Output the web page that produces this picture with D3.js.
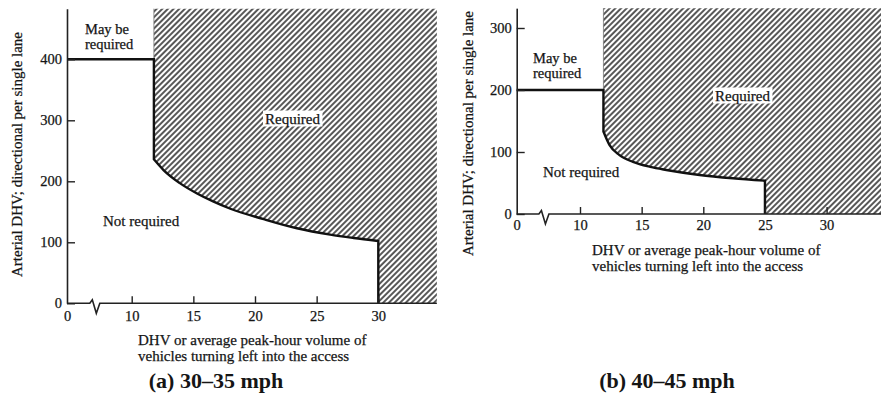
<!DOCTYPE html>
<html>
<head>
<meta charset="utf-8">
<script src="https://cdn.jsdelivr.net/npm/d3@7"></script>
<style>
  html, body { margin: 0; padding: 0; background: #fff; }
  svg { display: block; }
  text { font-family: "Liberation Serif", "Times New Roman", serif; fill: #151515; }
  .reg { stroke: #151515; stroke-width: 0.25px; }
</style>
</head>
<body>
<svg id="chart" width="881" height="396"></svg>
<script>
// ---------- data ----------
const xTickValues = [0, 10, 15, 20, 25, 30];
const yTicksA = [0, 100, 200, 300, 400];
const yTicksB = [0, 100, 200, 300];

// boundary "may be required" step (x from axis to ~12)
const stepA = [[0, 400], [11.8, 400], [11.8, 236]];
const stepB = [[0, 200], [11.9, 200], [11.9, 133]];

// curved boundary between "Not required" and "Required"
const curveA = [[11.8, 236], [12.6, 218], [13.9, 197], [15.3, 180], [16.6, 167], [18, 155],
                [20.7, 138], [23.4, 123], [26.1, 112.5], [28, 107], [30, 102]];
const curveB = [[11.9, 133], [12.4, 111], [13.2, 95], [14.3, 84], [15.7, 76], [17, 71],
                [19.7, 63], [22.4, 57.6], [25, 53.7]];

const xEndA = 34.75, yTopA = 483;
const xEndB = 35, yTopB = 332;
const breakAt = 4.3;

const captions = ["(a) 30\u201335 mph", "(b) 40\u201345 mph"];
const yLabel = "Arterial DHV; directional per single lane";
const xLabelLines = ["DHV or average peak-hour volume of", "vehicles turning left into the access"];

// ---------- drawing ----------
const svg = d3.select("#chart");
const defs = svg.append("defs");
const pat = defs.append("pattern")
  .attr("id", "hatch")
  .attr("patternUnits", "userSpaceOnUse")
  .attr("width", 4).attr("height", 4)
  .attr("patternTransform", "rotate(45)");
pat.append("rect").attr("width", 4).attr("height", 4).attr("fill", "#fff");
pat.append("line").attr("x1", 1).attr("y1", 0).attr("x2", 1).attr("y2", 4)
  .attr("stroke", "#3a3a3a").attr("stroke-width", 1.7);

function panel(opt) {
  const g = svg.append("g");
  const x = d3.scaleLinear().domain([0, 10, 35]).range([opt.x0, opt.x10, opt.x10 + 25 * opt.ux]);
  const y = d3.scaleLinear().domain([0, opt.yTop]).range([opt.y0, opt.y0 - opt.yTop * opt.uy]);

  const lin = d3.line().x(d => x(d[0])).y(d => y(d[1]));
  const crv = d3.line().x(d => x(d[0])).y(d => y(d[1])).curve(d3.curveMonotoneX);
  const first = opt.curve[0];
  const last = opt.curve[opt.curve.length - 1];
  const curvePath = crv(opt.curve);

  // hatched region
  const areaPath = "M" + x(first[0]) + "," + y(opt.yTop) +
    "L" + curvePath.slice(1) +
    "L" + x(last[0]) + "," + y(0) +
    "L" + x(opt.xEnd) + "," + y(0) +
    "L" + x(opt.xEnd) + "," + y(opt.yTop) + "Z";
  g.append("path").attr("d", areaPath).attr("fill", "url(#hatch)");

  // thin left edge of hatch above the step
  g.append("line")
    .attr("x1", x(first[0])).attr("x2", x(first[0]))
    .attr("y1", y(opt.yTop)).attr("y2", y(opt.step[1][1]))
    .attr("stroke", "#777").attr("stroke-width", 0.8);

  // boundary lines
  const strokePath = lin(opt.step) + "L" + curvePath.slice(1) + "L" + x(last[0]) + "," + y(0);
  g.append("path").attr("d", strokePath)
    .attr("fill", "none").attr("stroke", "#111").attr("stroke-width", 2.4)
    .attr("stroke-linejoin", "miter");

  // y axis
  const ya = g.append("g").attr("transform", `translate(${x(0)},0)`)
    .call(d3.axisLeft(y).tickValues(opt.yTicks).tickSizeInner(-8).tickSizeOuter(0).tickPadding(5));
  ya.select(".domain").attr("stroke", "#222").attr("stroke-width", 1.6);
  ya.selectAll(".tick line").attr("stroke", "#222").attr("stroke-width", 1.4);
  ya.selectAll(".tick text").attr("font-size", 14.5).attr("fill", "#151515").attr("class", "reg")
    .style("font-family", '"Liberation Serif", serif');

  // x axis
  const xa = g.append("g").attr("transform", `translate(0,${y(0)})`)
    .call(d3.axisBottom(x).tickValues(xTickValues).tickSizeInner(-7).tickSizeOuter(0).tickPadding(opt.xPad));
  xa.select(".domain").remove();
  xa.selectAll(".tick line").attr("stroke", "#222").attr("stroke-width", 1.4)
    .attr("opacity", d => d === 0 ? 0 : 1);
  xa.selectAll(".tick text").attr("font-size", 14.5).attr("fill", "#151515").attr("class", "reg")
    .style("font-family", '"Liberation Serif", serif');

  // x axis line with break
  const bx = x(breakAt), y0 = y(0);
  const axisD = `M${x(0)},${y0}L${bx - 5},${y0}L${bx - 2.5},${y0 - 3.5}L${bx + 1.5},${y0 + 10}L${bx + 5},${y0}L${x(opt.xEnd)},${y0}`;
  g.append("path").attr("d", axisD).attr("fill", "none")
    .attr("stroke", "#222").attr("stroke-width", 1.6).attr("stroke-linejoin", "miter");

  // region labels
  g.append("text").attr("class", "reg").attr("x", opt.mayX).attr("y", opt.mayY).attr("font-size", 14.5).text("May be");
  g.append("text").attr("class", "reg").attr("x", opt.mayX).attr("y", opt.mayY + 15).attr("font-size", 14.5).text("required");
  g.append("text").attr("class", "reg").attr("x", opt.notX).attr("y", opt.notY).attr("font-size", 15).text("Not required");

  const rq = g.append("text").attr("class", "reg").attr("x", opt.reqX).attr("y", opt.reqY).attr("font-size", 15).text("Required");
  const bb = rq.node().getBBox();
  g.insert("rect", () => rq.node())
    .attr("x", bb.x - 2).attr("y", bb.y).attr("width", bb.width + 4).attr("height", bb.height)
    .attr("fill", "#fff");

  // axis titles
  g.append("text").attr("class", "reg")
    .attr("transform", `translate(${opt.ylX},${opt.ylY}) rotate(-90)`)
    .attr("text-anchor", "middle").attr("font-size", 15).text(yLabel);
  xLabelLines.forEach((t, i) => {
    g.append("text").attr("class", "reg").attr("x", opt.xlX).attr("y", opt.xlY + i * 15.5)
      .attr("font-size", 15).text(t);
  });

  // caption
  g.append("text").attr("x", opt.capX).attr("y", 388)
    .attr("text-anchor", "middle").attr("font-size", 22).attr("font-weight", "bold")
    .text(opt.caption);
}

panel({
  x0: 67, x10: 131.7, ux: 12.33, y0: 303.3, uy: 0.61, yTop: yTopA, xEnd: xEndA,
  step: stepA, curve: curveA, yTicks: yTicksA, xPad: 7,
  mayX: 85, mayY: 34, notX: 103, notY: 226, reqX: 265, reqY: 123.5,
  ylX: 22, ylY: 154.5, xlX: 138, xlY: 345, capX: 216, caption: captions[0]
});

panel({
  x0: 516.7, x10: 580, ux: 12.33, y0: 214, uy: 0.62, yTop: yTopB, xEnd: xEndB,
  step: stepB, curve: curveB, yTicks: yTicksB, xPad: 6,
  mayX: 533, mayY: 63, notX: 543, notY: 176.5, reqX: 715, reqY: 100.5,
  ylX: 473, ylY: 133.5, xlX: 592, xlY: 255, capX: 667, caption: captions[1]
});
</script>
</body>
</html>
